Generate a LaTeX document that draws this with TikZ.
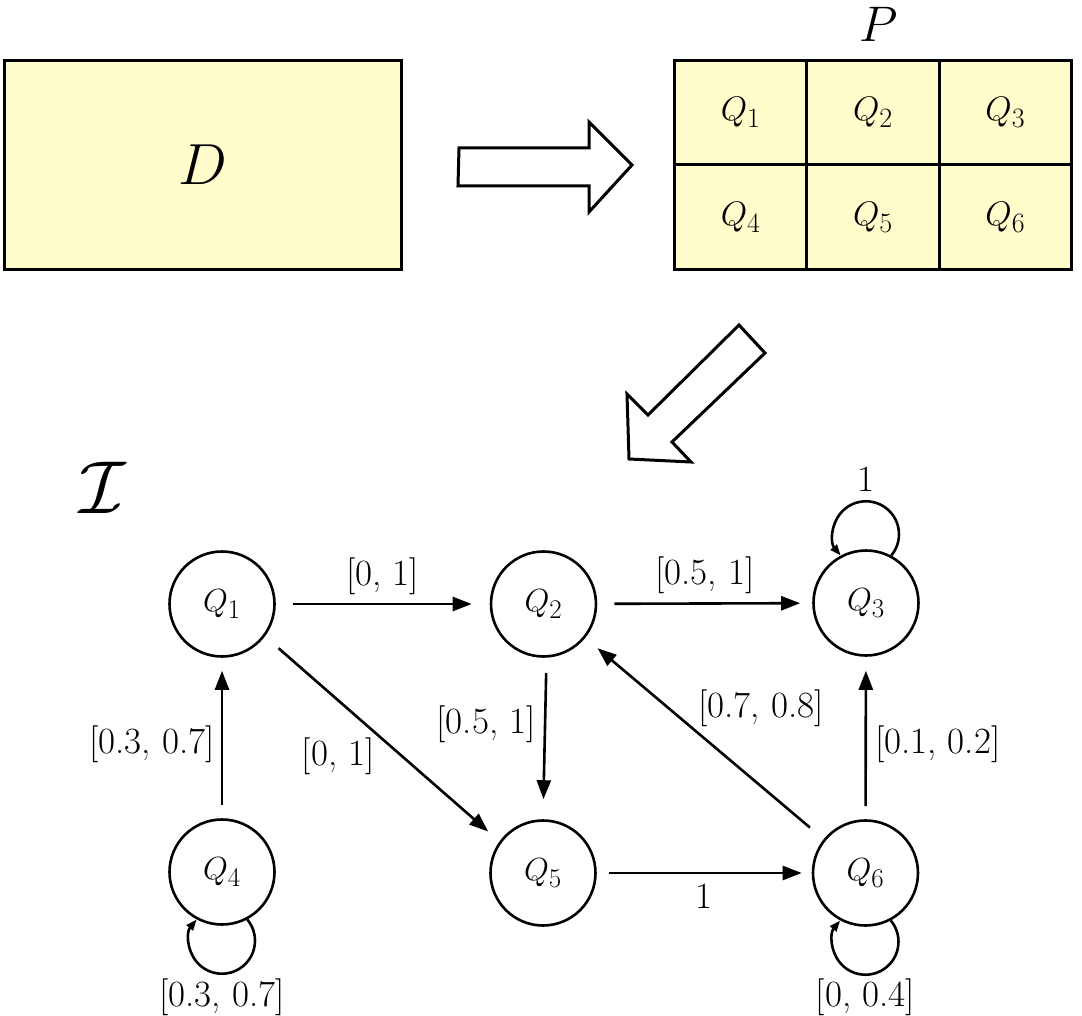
\RequirePackage{fix-cm}
\documentclass[tikz,border=0pt]{standalone}
\usetikzlibrary{arrows.meta}
\definecolor{paleyellow}{HTML}{FFFDCC}
\newcommand\Qs[2]{$Q_{\mbox{\fontsize{#2}{#2}\selectfont #1}}$}
\begin{document}
\begin{tikzpicture}[x=1pt,y=-1pt,
  state/.style={circle,draw,line width=2.6pt,minimum size=105pt,inner sep=0pt,font=\fontsize{32}{38}\selectfont},
  conn/.style={line width=2.6pt,-{Triangle[length=19pt,width=14pt]}},
  loopconn/.style={line width=2.6pt,-{Triangle[length=11pt,width=8pt]}},
  lab/.style={font=\fontsize{37}{44}\selectfont,inner sep=0pt},
  region/.style={draw,line width=3pt,fill=paleyellow,inner sep=0pt},
  cell/.style={region,minimum width=132.3pt,minimum height=104.5pt,font=\fontsize{34}{40}\selectfont},
  block/.style={draw,line width=3pt,fill=white,line join=miter}]
\useasboundingbox (0,0) rectangle (1082,1016);

% top: domain and partition
\node[region,minimum width=397pt,minimum height=209pt,font=\fontsize{58}{66}\selectfont] (D) at (203,165) {$D$};
\node[cell] (c1) at (740.65,112.75) {\Qs{1}{28}};
\node[cell] (c2) at (872.95,112.75) {\Qs{2}{28}};
\node[cell] (c3) at (1005.25,112.75) {\Qs{3}{28}};
\node[cell] (c4) at (740.65,217.25) {\Qs{4}{28}};
\node[cell] (c5) at (872.95,217.25) {\Qs{5}{28}};
\node[cell] (c6) at (1005.25,217.25) {\Qs{6}{28}};
\node[font=\fontsize{50}{60}\selectfont,inner sep=0pt] (P) at (879,24) {$P$};

% block arrows
\draw[block] (459,148) -- (589,148) -- (589,122) -- (632,165) -- (589,212) -- (589,186) -- (458,186) -- cycle;
\draw[block] (739,325) -- (765,353) -- (672,442) -- (691,462) -- (629,459) -- (627,394) -- (648,415) -- cycle;

% interval graph
\node[font=\fontsize{75}{80}\selectfont,inner sep=0pt] (I) at (103,488) {$\mathcal{I}$};

\node[state] (Q1) at (222,604) {\Qs{1}{27}};
\node[state] (Q2) at (543.5,604) {\Qs{2}{27}};
\node[state] (Q3) at (866,603) {\Qs{3}{27}};
\node[state] (Q4) at (222,872) {\Qs{4}{27}};
\node[state] (Q5) at (543,873) {\Qs{5}{27}};
\node[state] (Q6) at (865.5,873) {\Qs{6}{27}};

\draw[conn,shorten <=17pt,shorten >=18pt] (Q1) -- node[lab,above=8pt]{[0, 1]} (Q2);
\draw[conn,shorten <=17pt,shorten >=12pt] (Q2) -- node[lab,above=8pt]{[0.5, 1]} (Q3);
\draw[conn,shorten <=12pt,shorten >=10pt] (Q5) -- node[lab,below=10pt]{1} (Q6);
\draw[conn,shorten <=13pt,shorten >=13pt] (Q4) -- node[lab,pos=0.46,left=6pt]{[0.3, 0.7]} (Q1);
\draw[conn,shorten <=13pt,shorten >=14pt] (Q6) -- node[lab,pos=0.46,right=8pt]{[0.1, 0.2]} (Q3);
\draw[conn,shorten <=15pt,shorten >=20pt] ([xshift=3pt]Q2.south) -- node[lab,pos=0.41,left=8pt]{[0.5, 1]} (Q5.north);
\draw[conn,shorten <=18pt,shorten >=15pt] (Q1.-37.7) -- node[lab,pos=0.48,anchor=north east,inner sep=1.5pt]{[0, 1]} (Q5.144.5);
\draw[conn,shorten <=18pt,shorten >=16pt] (Q6.141.5) -- node[lab,pos=0.54,anchor=south west,inner sep=2pt]{[0.7, 0.8]} (Q2.-39);

% self loops
\draw[loopconn] (Q3.62) arc[start angle=40, end angle=-220, radius=33];
\path (Q3.62) ++(-25.3,-54.2) coordinate (L3);
\node[lab,above=10pt] (l3) at (L3) {1};

\draw[loopconn] (Q4.-62) arc[start angle=-40, end angle=220, radius=33];
\path (Q4.-62) ++(-25.3,54.2) coordinate (L4);
\node[lab,below=5pt] (l4) at (L4) {[0.3, 0.7]};

\draw[loopconn] (Q6.-62) arc[start angle=-40, end angle=220, radius=33];
\path (Q6.-62) ++(-25.3,54.2) coordinate (L6);
\node[lab,below=4pt] (l6) at (L6) {[0, 0.4]};
\end{tikzpicture}
\end{document}
